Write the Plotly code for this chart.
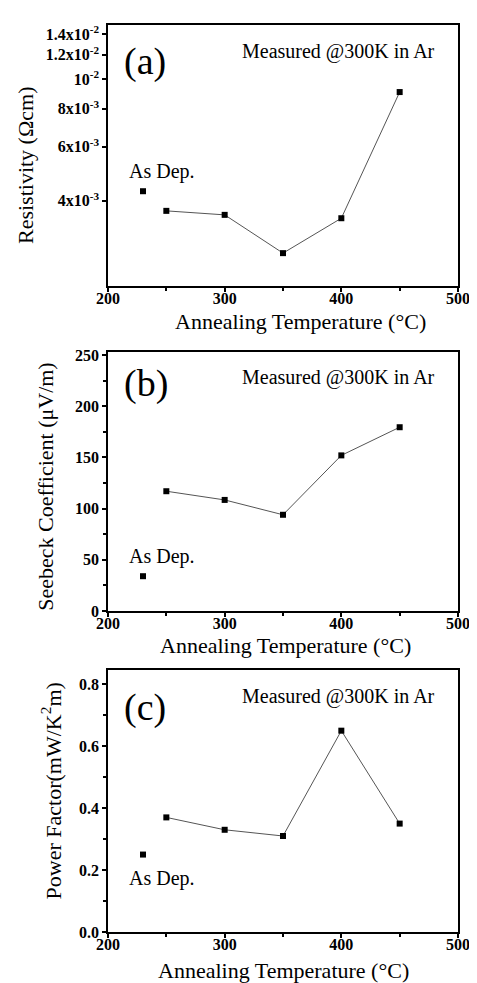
import plotly.graph_objects as go
from plotly.subplots import make_subplots

# annealing temperatures, the as-deposited film is drawn at 230
as_dep_temp = [230]
anneal_temp = [250, 300, 350, 400, 450]

# (a) resistivity, ohm cm
rho_as_dep = [4.3e-3]
rho_anneal = [3.71e-3, 3.60e-3, 2.70e-3, 3.51e-3, 9.06e-3]

# (b) seebeck coefficient
seebeck_as_dep = [34]
seebeck_anneal = [117, 108.5, 94, 152, 179.5]

# (c) power factor
pf_as_dep = [0.25]
pf_anneal = [0.37, 0.33, 0.31, 0.65, 0.35]

temp_ticks = [200, 300, 400, 500]
rho_ticks = [4e-3, 6e-3, 8e-3, 1e-2, 1.2e-2, 1.4e-2]
rho_ticktext = ["4x10<sup>-3</sup>", "6x10<sup>-3</sup>", "8x10<sup>-3</sup>",
                "10<sup>-2</sup>", "1.2x10<sup>-2</sup>", "1.4x10<sup>-2</sup>"]
seebeck_ticks = [0, 50, 100, 150, 200, 250]
pf_ticks = [0.0, 0.2, 0.4, 0.6, 0.8]

y_titles = ["Resistivity (Ωcm)", "Seebeck Coefficient (μV/m)",
            "Power Factor(mW/K<sup>2</sup>m)"]
x_title = "Annealing Temperature (°C)"

serif = "Liberation Serif"

domains = [[0.7122, 1.0], [0.3539, 0.6395], [0.0, 0.2889]]

fig = make_subplots(rows=3, cols=1, vertical_spacing=0.07)
fig.update_layout(
    yaxis=dict(domain=domains[0]),
    yaxis2=dict(domain=domains[1]),
    yaxis3=dict(domain=domains[2]),
)

panels = [
    (rho_as_dep, rho_anneal),
    (seebeck_as_dep, seebeck_anneal),
    (pf_as_dep, pf_anneal),
]
for i, (dep, ann) in enumerate(panels, start=1):
    fig.add_trace(go.Scatter(x=anneal_temp, y=ann, mode="lines+markers",
                             line=dict(color="#555555", width=1),
                             marker=dict(symbol="square", size=6, color="black"),
                             showlegend=False), row=i, col=1)
    fig.add_trace(go.Scatter(x=as_dep_temp, y=dep, mode="markers",
                             marker=dict(symbol="square", size=6, color="black"),
                             showlegend=False), row=i, col=1)


def bold(items):
    return ["<b>" + t + "</b>" for t in items]


tick_font = dict(family=serif, size=16, color="black", weight="bold")
title_font = dict(family=serif, size=22, color="black")

for i in range(1, 4):
    fig.update_xaxes(row=i, col=1, range=[200, 500],
                     showline=True, linecolor="black", linewidth=1.5, mirror=True,
                     ticks="outside", ticklen=4, tickwidth=1.5, tickcolor="black",
                     showgrid=False, zeroline=False, tickfont=tick_font,
                     ticklabelstandoff=-7, ticklabeloverflow="allow",
                     tickvals=temp_ticks, ticktext=bold([str(t) for t in temp_ticks]),
                     minor=dict(ticks="outside", ticklen=3, dtick=50, tickcolor="black"))

y_common = dict(showline=True, linecolor="black", linewidth=1.5, mirror=True,
                ticks="outside", ticklen=4, tickwidth=1.5, tickcolor="black",
                showgrid=False, zeroline=False, tickfont=tick_font,
                ticklabeloverflow="allow")

fig.update_yaxes(row=1, col=1, type="log", range=[-2.676, -1.824],
                 tickvals=rho_ticks, ticktext=bold(rho_ticktext), **y_common)
fig.update_yaxes(row=2, col=1, range=[0, 253],
                 tickvals=seebeck_ticks, ticktext=bold([str(t) for t in seebeck_ticks]),
                 minor=dict(ticks="outside", ticklen=3, dtick=25, tickcolor="black"),
                 **y_common)
fig.update_yaxes(row=3, col=1, range=[0, 0.846],
                 tickvals=pf_ticks, ticktext=bold([f"{t:.1f}" for t in pf_ticks]),
                 minor=dict(ticks="outside", ticklen=3, dtick=0.1, tickcolor="black"),
                 **y_common)

# per panel text placement:
# (label y, measured y, as-dep y) as fractions of the panel,
# y title x / centre, x title centre / offset below the axis
labels = [("(a)", 0.86, 0.90, 0.44), ("(b)", 0.88, 0.90, 0.21), ("(c)", 0.855, 0.897, 0.206)]
ytitle_pos = [(-0.234, 0.464), (-0.177, 0.48), (-0.163, 0.54)]
xtitle_pos = [(0.55, -35), (0.507, -34), (0.50, -38)]

for k, ((lab, ay, my, dy), (lo, hi)) in enumerate(zip(labels, domains)):
    def py(f):
        return lo + f * (hi - lo)
    fig.add_annotation(text=lab, xref="paper", yref="paper", x=0.04, y=py(ay),
                       showarrow=False, xanchor="left", yanchor="middle",
                       font=dict(family=serif, size=38, color="black"))
    fig.add_annotation(text="Measured @300K in Ar", xref="paper", yref="paper",
                       x=0.94, y=py(my), showarrow=False, xanchor="right",
                       yanchor="middle", font=dict(family=serif, size=20, color="black"))
    fig.add_annotation(text="As Dep.", xref="paper", yref="paper", x=0.055, y=py(dy),
                       showarrow=False, xanchor="left", yanchor="middle",
                       font=dict(family=serif, size=20, color="black"))
    tx, ty = ytitle_pos[k]
    fig.add_annotation(text=y_titles[k], xref="paper", yref="paper", x=tx, y=py(ty),
                       textangle=-90, showarrow=False, xanchor="center",
                       yanchor="middle", font=title_font)
    cx, off = xtitle_pos[k]
    fig.add_annotation(text=x_title, xref="paper", yref="paper", x=cx, y=lo,
                       yshift=off, showarrow=False, xanchor="center",
                       yanchor="middle", font=title_font)

fig.update_layout(width=477, height=983, plot_bgcolor="white", paper_bgcolor="white",
                  font=dict(family=serif, color="black"),
                  margin=dict(l=100, r=27, t=17, b=59))

fig.write_html("out.html")
